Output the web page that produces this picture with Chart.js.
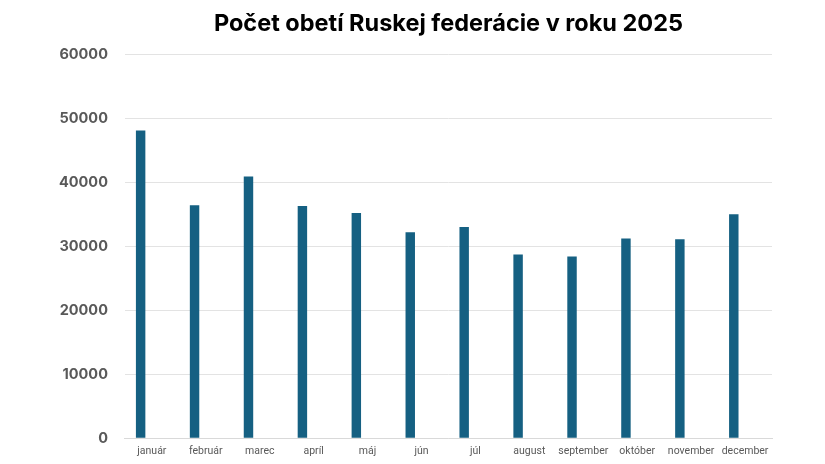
<!DOCTYPE html>
<html>
<head>
<meta charset="utf-8">
<script src="https://cdn.jsdelivr.net/npm/chart.js@4"></script>
<style>
  html, body { margin:0; padding:0; background:#fff; }
  #wrap { width:825px; height:464px; }
</style>
</head>
<body>
<div id="wrap"><canvas id="c"></canvas></div>
<script>
// months on the x axis
const months = ['január','február','marec','apríl','máj','jún','júl','august','september','október','november','december'];
// casualties per month
const losses = [48100, 36400, 40900, 36300, 35200, 32200, 33000, 28700, 28400, 31200, 31100, 35000];
// second series of the Excel cluster is empty, it only keeps the bar left of centre
const emptySeries = [null, null, null, null, null, null, null, null, null, null, null, null];
const yTicks = [0, 10000, 20000, 30000, 40000, 50000, 60000];

const grey = '#595959';

new Chart(document.getElementById('c'), {
  type: 'bar',
  data: {
    labels: months,
    datasets: [
      { label: 'obete', data: losses, backgroundColor: '#156082', borderWidth: 0, barPercentage: 0.42, categoryPercentage: 0.834 },
      { label: '', data: emptySeries, backgroundColor: '#156082', borderWidth: 0, barPercentage: 0.42, categoryPercentage: 0.834 },
    ]
  },
  options: {
    responsive: true,
    maintainAspectRatio: false,
    animation: false,
    layout: { padding: { left: 42, right: 53, top: 0, bottom: -2 } },
    plugins: {
      legend: { display: false },
      tooltip: { enabled: false },
      title: {
        display: true, fullSize: false,
        text: 'Počet obetí Ruskej federácie v roku 2025',
        color: '#000',
        font: { family: 'Inter', size: 23.5, weight: 'bold' },
        padding: { top: 10, bottom: 16 }
      }
    },
    scales: {
      x: {
        grid: { display: false, drawTicks: false },
        border: { display: true, color: '#d9d9d9', width: 1 },
        ticks: { color: grey, font: { family: 'Roboto', size: 10.5 }, padding: 7, maxRotation: 0, autoSkip: false }
      },
      y: {
        min: 0, max: 60000,
        afterBuildTicks: ax => { ax.ticks = yTicks.map(v => ({ value: v })); },
        grid: { color: '#e3e3e3', lineWidth: 1, drawTicks: false },
        border: { display: false },
        ticks: { color: grey, font: { family: 'Inter', size: 14.5, weight: 'bold' }, padding: 17, callback: v => String(v) }
      }
    }
  }
});
</script>
</body>
</html>
